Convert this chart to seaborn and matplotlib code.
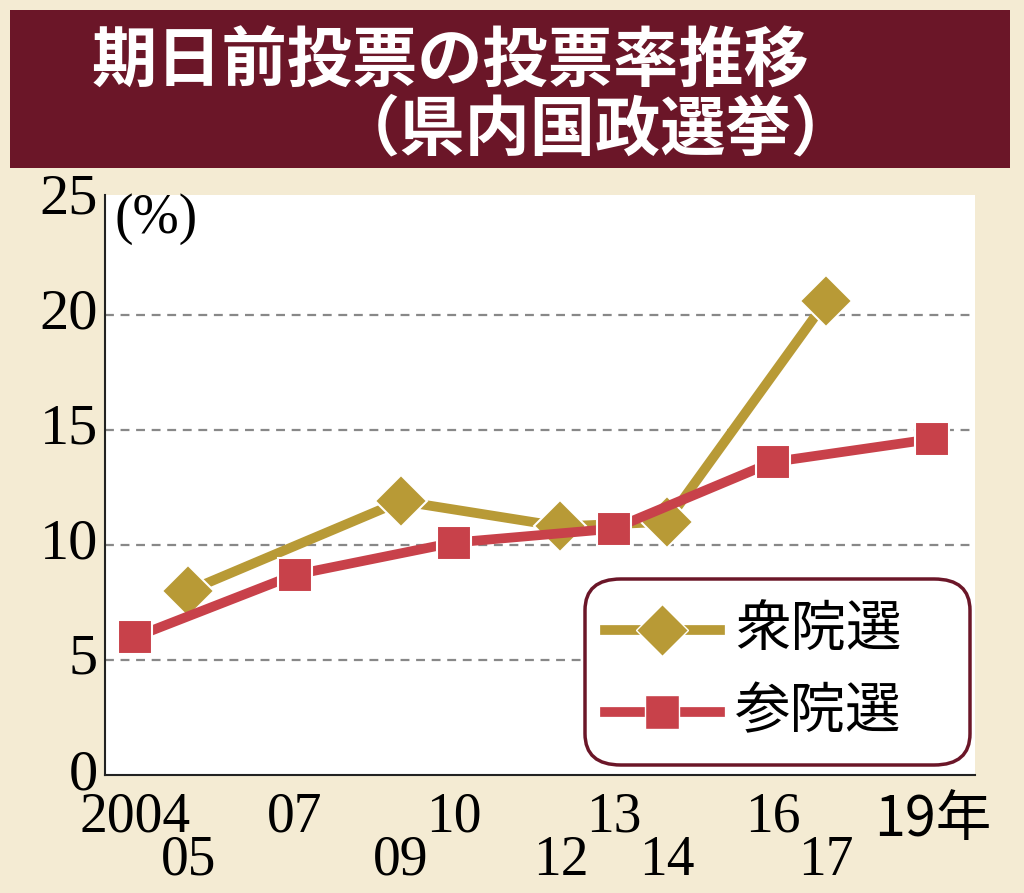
import matplotlib
matplotlib.use("Agg")
import matplotlib.pyplot as plt
import seaborn as sns
import pandas as pd
from matplotlib.patches import FancyBboxPatch, Rectangle
from matplotlib.lines import Line2D

shu_years = [2005, 2009, 2012, 2014, 2017]
shu_vals = [8.0, 11.9, 10.8, 11.0, 20.6]
san_years = [2004, 2007, 2010, 2013, 2016, 2019]
san_vals = [6.0, 8.7, 10.1, 10.7, 13.6, 14.6]
tick_upper = [(2004, "2004"), (2007, "07"), (2010, "10"), (2013, "13"), (2016, "16"), (2019, "19年")]
tick_lower = [(2005, "05"), (2009, "09"), (2012, "12"), (2014, "14"), (2017, "17")]
yticks = [0, 5, 10, 15, 20, 25]

BG = "#f4ebd3"; MAROON = "#6b1628"; GOLD = "#b89a36"; RED = "#c8414a"
SERIF = "Liberation Serif"; JP = "Noto Sans CJK JP"

W, H = 1024, 893
fig = plt.figure(figsize=(W/100, H/100), dpi=100, facecolor=BG)
fig.patches.append(Rectangle((10/W, 1-168/H), 1000/W, 158/H, transform=fig.transFigure,
                             facecolor=MAROON, edgecolor="none"))
fig.text(92/W, 1-62/H, "期日前投票の投票率推移", fontfamily=JP, fontsize=47, fontweight="bold",
         color="white", va="center", ha="left")
fig.text(335/W, 1-130/H, "（県内国政選挙）", fontfamily=JP, fontsize=47, fontweight="bold",
         color="white", va="center", ha="left")

ax = fig.add_axes([105/W, 1-775/H, 870/W, 580/H])
ax.set_facecolor("white")
ax.set_xlim(2003.43, 2019.8); ax.set_ylim(0, 25.2)
for v in [5, 10, 15, 20]:
    ax.axhline(v, color="#888888", ls=(0, (4, 3)), lw=1.6, zorder=0)
df1 = pd.DataFrame({"year": shu_years, "v": shu_vals})
df2 = pd.DataFrame({"year": san_years, "v": san_vals})
sns.lineplot(data=df1, x="year", y="v", ax=ax, color=GOLD, lw=7, marker="D", markersize=26,
             markeredgecolor="white", markeredgewidth=1.5, zorder=3)
sns.lineplot(data=df2, x="year", y="v", ax=ax, color=RED, lw=7, marker="s", markersize=24,
             markeredgecolor="white", markeredgewidth=1.5, zorder=4)
ax.set_xticks([]); ax.set_yticks([])
ax.set_xlabel(""); ax.set_ylabel("")
for s in ax.spines.values():
    s.set_color("#222222"); s.set_linewidth(1.5)
ax.spines["top"].set_visible(False); ax.spines["right"].set_visible(False)

for v in yticks:
    ax.text(2003.3, v, str(v), fontfamily=SERIF, fontsize=42, ha="right", va="center",
            fontstretch="condensed")
ax.text(2003.6, 25.3, "(%)", fontfamily=SERIF, fontsize=40, ha="left", va="top")
for yr, lab in tick_upper:
    ax.text(yr, -0.7, lab, fontfamily=SERIF if "年" not in lab else JP, fontsize=40,
            ha="center", va="top", clip_on=False)
for yr, lab in tick_lower:
    ax.text(yr, -2.6, lab, fontfamily=SERIF, fontsize=40, ha="center", va="top", clip_on=False)

box = FancyBboxPatch((585/W, 1-765/H), 385/W, 186/H, boxstyle="round,pad=0,rounding_size=0.035",
                     transform=fig.transFigure, facecolor="white", edgecolor=MAROON, lw=2.5, zorder=5)
fig.patches.append(box)
fig.lines.append(Line2D([605/W, 720/W], [1-630/H, 1-630/H], transform=fig.transFigure, color=GOLD,
                        lw=7, zorder=6))
fig.lines.append(Line2D([662/W], [1-630/H], transform=fig.transFigure, color=GOLD, marker="D",
                        markersize=26, markeredgecolor="white", zorder=7))
fig.lines.append(Line2D([605/W, 720/W], [1-712/H, 1-712/H], transform=fig.transFigure, color=RED,
                        lw=7, zorder=6))
fig.lines.append(Line2D([662/W], [1-712/H], transform=fig.transFigure, color=RED, marker="s",
                        markersize=24, markeredgecolor="white", zorder=7))
fig.text(735/W, 1-630/H, "衆院選", fontfamily=JP, fontsize=40, va="center", ha="left", zorder=8)
fig.text(735/W, 1-712/H, "参院選", fontfamily=JP, fontsize=40, va="center", ha="left", zorder=8)

fig.savefig("out.png", dpi=100, facecolor=BG)
